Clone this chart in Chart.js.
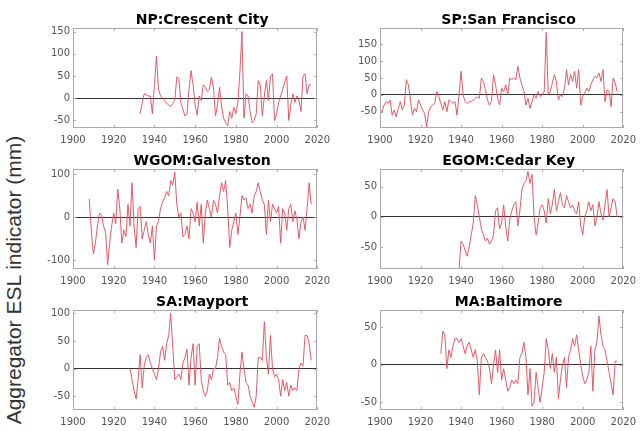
<!DOCTYPE html>
<html>
<head>
<meta charset="utf-8">
<script src="https://cdn.jsdelivr.net/npm/chart.js@4.4.1/dist/chart.umd.min.js"></script>
<style>
  body { margin: 0; background: #fff; }
  #wrap { position: relative; width: 644px; height: 431px; overflow: hidden; }
  #wrap canvas { position: absolute; }
  #ylab {
    position: absolute; width: 320px; height: 24px; line-height: 24px;
    left: -146px; top: 268px; text-align: center; white-space: nowrap;
    font-family: "Liberation Sans", Arial, sans-serif; font-size: 21px; color: #333;
    transform: rotate(-90deg);
  }
</style>
</head>
<body>
<div id="wrap">
  <div id="ylab">Aggregator ESL indicator (mm)</div>
</div>
<script>
// x tick labels, shared by all panels
const yearTicks = [1900, 1920, 1940, 1960, 1980, 2000, 2020];

// NP: Crescent City, yearly from 1933
const npStart = 1933;
const npValues = [-35, -10, 10, 8, 5, 5, -35, 30, 95, 20, 5, 0, -5, -12, -15, -18, -12, -5,
  48, 45, -10, -25, -40, -35, 20, 62, 30, -15, -38, 5, -5, 30, 25, 15, 20, 48, 25, -40, -15,
  25, -20, -45, -55, -62, -30, -45, -20, -35, -10, 60, 150, -45, 10, 5, -30, -55, -50, -35,
  40, 30, -40, 5, 40, -5, 50, 55, -50, -35, -10, 5, 20, 35, 50, -50, -15, 10, -10, 5, -5,
  -30, 50, 55, 10, 30, 30];
const npTicks = [-50, 0, 50, 100, 150];

// SP: San Francisco, yearly from 1900
const spStart = 1900;
const spValues = [-42, -50, -30, -20, -25, -15, -60, -45, -65, -40, -20, -45, -30, 45, 30, -15,
  -60, -40, -50, -15, -30, -45, -55, -95, -50, -35, -30, -25, 10, -5, -25, -45, -20, -50, -15,
  -20, -25, -20, -60, 0, 70, 0, -20, -25, -20, -20, -15, -10, -5, -10, 50, 40, 15, -15, -30,
  -20, 60, 30, -10, -30, 20, 10, 30, 0, 50, 45, 50, 45, 85, 50, 30, 10, -30, -10, -40, -20, 0,
  -10, 10, -5, 0, 10, 185, 0, 10, 35, 60, 40, -15, 0, -5, 20, 75, 30, 60, 40, 70, 20, 75, -30,
  -5, 5, 20, 10, 30, 45, 55, 50, 65, 40, 75, -20, 15, 10, -35, 50, 35, 10];
const spTicks = [-50, 0, 50, 100, 150];

// WGOM: Galveston, yearly from 1908
const wgStart = 1908;
const wgValues = [43, -30, -85, -60, -20, 10, 5, -20, -35, -110, -60, -20, 10, -15, 65, 20, -60,
  -30, -45, 30, -20, 80, -20, -70, 20, 25, -50, -30, -10, -40, -60, -20, -100, -20, -10, 20, 35,
  45, 60, 50, 85, 75, 105, 30, 0, 10, -45, -40, -20, -50, 20, 10, -10, 35, -20, 30, -60, 10, 40,
  20, 0, 40, 30, 10, 50, 80, 60, 85, 20, -70, -30, -10, 10, -40, 0, 50, 40, 45, 20, 30, 10, 50,
  60, 80, 60, 40, 30, -40, 40, -10, 30, 20, 10, 25, -60, 20, 10, -30, 20, 30, -10, 15, -5, -50,
  -10, 0, -30, 20, 80, 30];
const wgTicks = [-100, 0, 100];

// EGOM: Cedar Key, yearly from 1939
const egStart = 1939;
const egValues = [-85, -40, -45, -55, -65, -50, -30, -10, 35, 20, 0, -20, -30, -40, -35, -45,
  -40, -30, 10, 15, -20, -10, 20, -15, -40, -5, 10, 20, 25, -15, 10, 45, 55, 60, 75, 55, 70, 0,
  -30, -10, 15, 20, 10, -10, 30, 5, 20, 45, 10, 25, 40, 20, 15, 35, 25, 15, 20, 10, 5, 25, -15,
  -30, 0, 10, 25, 10, 20, -15, 0, 25, 5, -5, 20, 45, 0, 15, 30, 25, 0];
const egTicks = [-50, 0, 50];

// SA: Mayport, yearly from 1928
const saStart = 1928;
const saValues = [0, -20, -40, -55, -20, 25, -35, 5, 20, 25, 10, 0, -10, -20, 0, 30, 40, 15, 45,
  60, 100, 40, -20, -15, -10, -20, 10, 20, 35, -30, 20, 45, -30, 40, 45, -20, -40, -50, -40, -10,
  -20, 0, 0, 20, 55, 40, 30, 25, -30, -25, -40, -35, -50, -65, -10, 30, 0, -25, -30, -50, -60,
  -70, -50, 20, 20, 15, 85, 20, -10, 60, 0, -15, -10, -20, -50, -20, -40, -25, -50, -30, -40,
  -35, -40, 0, 10, 5, 60, 60, 45, 15];
const saTicks = [-50, 0, 50, 100];

// MA: Baltimore, yearly from 1930
const maStart = 1930;
const maValues = [15, 45, 40, -5, 20, 10, 25, 35, 35, 30, 35, 25, 15, 25, 30, 20, 10, 20, 5, -40,
  10, 15, 10, 5, -5, -25, 0, 20, -10, 20, -20, -5, -20, -35, -30, -20, -25, -20, -25, 10, 15, 30,
  10, -40, -5, -55, -50, -10, -30, -50, -30, -10, 35, 20, -5, 15, -10, 10, -45, -20, 0, 10, -30,
  10, 20, 35, 25, 40, 20, 0, -15, -25, -20, -10, 25, -35, 20, 30, 65, 40, 25, 20, 5, -10, -25,
  -40, 5, 5];
const maTicks = [-50, 0, 50];

const panels = [
  { title: 'NP:Crescent City', start: npStart, values: npValues, ticks: npTicks, ymin: -67, ymax: 158, left: 73, top: 28, w: 245 },
  { title: 'SP:San Francisco', start: spStart, values: spValues, ticks: spTicks, ymin: -98, ymax: 198, left: 380, top: 28, w: 244 },
  { title: 'WGOM:Galveston', start: wgStart, values: wgValues, ticks: wgTicks, ymin: -120, ymax: 112, left: 73, top: 169, w: 245 },
  { title: 'EGOM:Cedar Key', start: egStart, values: egValues, ticks: egTicks, ymin: -86, ymax: 79, left: 380, top: 169, w: 244 },
  { title: 'SA:Mayport', start: saStart, values: saValues, ticks: saTicks, ymin: -75, ymax: 106, left: 73, top: 310, w: 245 },
  { title: 'MA:Baltimore', start: maStart, values: maValues, ticks: maTicks, ymin: -60, ymax: 73, left: 380, top: 310, w: 244 }
];

Chart.defaults.font.family = 'DejaVu Sans';
Chart.defaults.color = '#555';

// box around the axes plus small inward ticks, matlab style
const frame = {
  id: 'frame',
  afterDraw(chart) {
    const { ctx, chartArea: a, scales: { x, y } } = chart;
    ctx.save();
    ctx.strokeStyle = '#aaaaaa';
    ctx.lineWidth = 1;
    ctx.strokeRect(Math.round(a.left) + 0.5, Math.round(a.top) + 0.5, Math.round(a.width) - 1, Math.round(a.height) - 1);
    ctx.beginPath();
    x.ticks.forEach(t => {
      const px = Math.round(x.getPixelForValue(t.value)) + 0.5;
      ctx.moveTo(px, a.bottom); ctx.lineTo(px, a.bottom - 3);
      ctx.moveTo(px, a.top); ctx.lineTo(px, a.top + 3);
    });
    y.ticks.forEach(t => {
      const py = Math.round(y.getPixelForValue(t.value)) + 0.5;
      ctx.moveTo(a.left, py); ctx.lineTo(a.left + 3, py);
      ctx.moveTo(a.right, py); ctx.lineTo(a.right - 3, py);
    });
    ctx.stroke();

    // panel title, sits a little right of the axes centre like the original
    ctx.fillStyle = '#000';
    ctx.font = 'bold 14px "DejaVu Sans"';
    ctx.textAlign = 'center';
    ctx.textBaseline = 'middle';
    ctx.fillText(chart.options.plugins.frame.title, (a.left + a.right) / 2 + 7, a.top - 8);
    ctx.restore();
  }
};

const wrap = document.getElementById('wrap');

panels.forEach(p => {
  const c = document.createElement('canvas');
  const cw = p.w + 45 + 18, ch = 152;
  c.width = cw; c.height = ch;
  c.style.width = cw + 'px'; c.style.height = ch + 'px';
  c.style.left = (p.left - 45) + 'px';
  c.style.top = (p.top - 28) + 'px';
  wrap.appendChild(c);

  const points = p.values.map((v, i) => ({ x: p.start + i, y: v }));

  new Chart(c, {
    type: 'line',
    data: {
      datasets: [{
        data: points,
        borderColor: 'rgba(230, 80, 95, 0.95)',
        borderWidth: 1,
        pointRadius: 0,
        tension: 0
      }]
    },
    options: {
      responsive: false,
      animation: false,
      events: [],
      layout: { padding: { left: 0, right: 18, top: 28, bottom: 0 } },
      plugins: {
        legend: { display: false },
        tooltip: { enabled: false },
        frame: { title: p.title }
      },
      scales: {
        x: {
          type: 'linear',
          min: 1900,
          max: 2020,
          afterBuildTicks: s => { s.ticks = yearTicks.map(v => ({ value: v })); },
          afterFit: s => { s.height = 24; },
          grid: { display: false, drawTicks: false },
          border: { display: false },
          ticks: { autoSkip: false, maxRotation: 0, padding: 6, font: { size: 10 }, callback: v => String(v) }
        },
        y: {
          min: p.ymin,
          max: p.ymax,
          z: 1,
          afterBuildTicks: s => { s.ticks = p.ticks.map(v => ({ value: v })); },
          afterFit: s => { s.width = 45; },
          grid: {
            drawTicks: false,
            lineWidth: 1,
            color: ctx => (ctx.tick && ctx.tick.value === 0 ? '#333' : 'rgba(0,0,0,0)')
          },
          border: { display: false },
          ticks: { padding: 3, font: { size: 10 }, callback: v => String(v) }
        }
      }
    },
    plugins: [frame]
  });
});
</script>
</body>
</html>
